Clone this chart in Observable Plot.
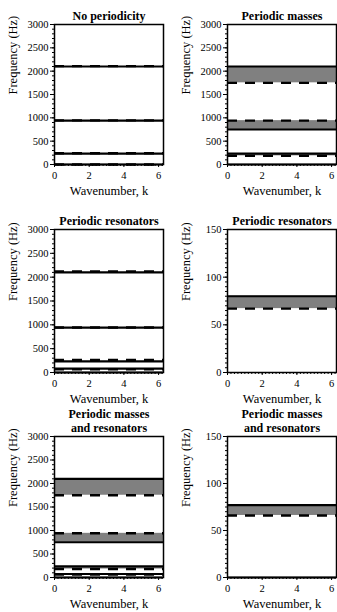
<!DOCTYPE html>
<html><head><meta charset="utf-8">
<script src="https://cdn.jsdelivr.net/npm/d3@7"></script>
<script src="https://cdn.jsdelivr.net/npm/@observablehq/plot@0.6"></script>
<style>
body{margin:0;background:#fff;}
#c{position:relative;width:337px;height:612px;overflow:hidden;}
#c svg{position:absolute;overflow:visible;}
#c svg, #c svg text{font-family:"Liberation Serif","Times New Roman",serif !important;}
</style></head><body><div id="c"></div>
<script>
// ---- data ----
const titles = ["No periodicity", "Periodic masses", "Periodic resonators", "Periodic resonators",
                "Periodic masses\nand resonators", "Periodic masses\nand resonators"];
const xTicks = [0, 2, 4, 6];
const xMax = 2 * Math.PI;
const yTicksFull = [0, 500, 1000, 1500, 2000, 2500, 3000];
const yTicksZoom = [0, 50, 100, 150];
const yMaxes = [3000, 3000, 3000, 150, 3000, 150];

// band edges (Hz): solid lines, dashed lines, grey stop bands (lo..hi)
const solid1 = [0, 235, 940, 2100];
const dashed1 = [0, 240, 945, 2108];
const gapLo1 = [];
const gapHi1 = [];

const solid2 = [0, 235, 750, 2100];
const dashed2 = [185, 940, 1750];
const gapLo2 = [185, 750, 1750];
const gapHi2 = [235, 940, 2100];

const solid3 = [0, 80, 235, 940, 2100];
const dashed3 = [65, 262, 945, 2118];
const gapLo3 = [65];
const gapHi3 = [80];

const solid4 = [80];
const dashed4 = [67];
const gapLo4 = [67];
const gapHi4 = [80];

const solid5 = [0, 75, 235, 750, 2100];
const dashed5 = [62, 180, 940, 1750];
const gapLo5 = [62, 180, 750, 1750];
const gapHi5 = [75, 235, 940, 2100];

const solid6 = [0, 77];
const dashed6 = [66];
const gapLo6 = [66];
const gapHi6 = [77];

const solids = [solid1, solid2, solid3, solid4, solid5, solid6];
const dasheds = [dashed1, dashed2, dashed3, dashed4, dashed5, dashed6];
const gapLos = [gapLo1, gapLo2, gapLo3, gapLo4, gapLo5, gapLo6];
const gapHis = [gapHi1, gapHi2, gapHi3, gapHi4, gapHi5, gapHi6];

// ---- layout ----
const cols = [{left: 0, width: 168, ml: 54, mr: 5}, {left: 168, width: 169, ml: 59, mr: 1}];
const rows = [{top: 0, height: 210, mt: 24, mb: 46},
              {top: 200, height: 210, mt: 29, mb: 38},
              {top: 400, height: 212, mt: 36, mb: 35}];
const font = "Liberation Serif";
const container = document.getElementById("c");

for (let i = 0; i < 6; i++) {
  const col = cols[i % 2], row = rows[Math.floor(i / 2)];
  const yMax = yMaxes[i];
  const yTicks = yMax === 3000 ? yTicksFull : yTicksZoom;
  const gaps = gapLos[i].map((lo, j) => ({lo, hi: gapHis[i][j]}));
  const chart = Plot.plot({
    width: col.width, height: row.height,
    marginLeft: col.ml, marginRight: col.mr, marginTop: row.mt, marginBottom: row.mb,
    style: {background: "transparent", fontFamily: font, overflow: "visible", color: "black"},
    x: {domain: [0, xMax]},
    y: {domain: [0, yMax]},
    marks: [
      Plot.rect(gaps, {x1: 0, x2: xMax, y1: "lo", y2: "hi", fill: "#808080"}),
      Plot.ruleY(solids[i], {stroke: "black", strokeWidth: 2.2}),
      Plot.ruleY(dasheds[i], {stroke: "black", strokeWidth: 2.4, strokeDasharray: "10,8"}),
      Plot.axisY(d3.range(0, yMax + 1e-9, yMax / 30), {tickSize: 2, tickFormat: () => "", label: null}),
      Plot.axisX(d3.range(0, xMax, 0.2), {tickSize: 2, tickFormat: () => "", label: null}),
      Plot.axisY(yTicks, {tickSize: 4, tickPadding: 2, fontSize: 10.5, tickFormat: d3.format("d"), label: null}),
      Plot.axisX(xTicks, {tickSize: 3, tickPadding: 4, fontSize: 10.5, tickFormat: d3.format("d"), label: null}),
      Plot.frame({stroke: "black", strokeWidth: 1.5}),
      Plot.text([titles[i]], {text: d => d, frameAnchor: "top", lineAnchor: "bottom", dy: -5,
        fontWeight: "bold", fontSize: 12, lineHeight: 1.1}),
      Plot.text(["Wavenumber, k"], {text: d => d, frameAnchor: "bottom", lineAnchor: "top", dy: 22, fontSize: 12.5}),
      Plot.text(["Frequency (Hz)"], {text: d => d, frameAnchor: "left", rotate: -90, dx: -42, fontSize: 12.5})
    ]
  });
  chart.style.left = col.left + "px";
  chart.style.top = row.top + "px";
  chart.style.maxWidth = "none";
  container.appendChild(chart);
}
</script>
</body></html>
